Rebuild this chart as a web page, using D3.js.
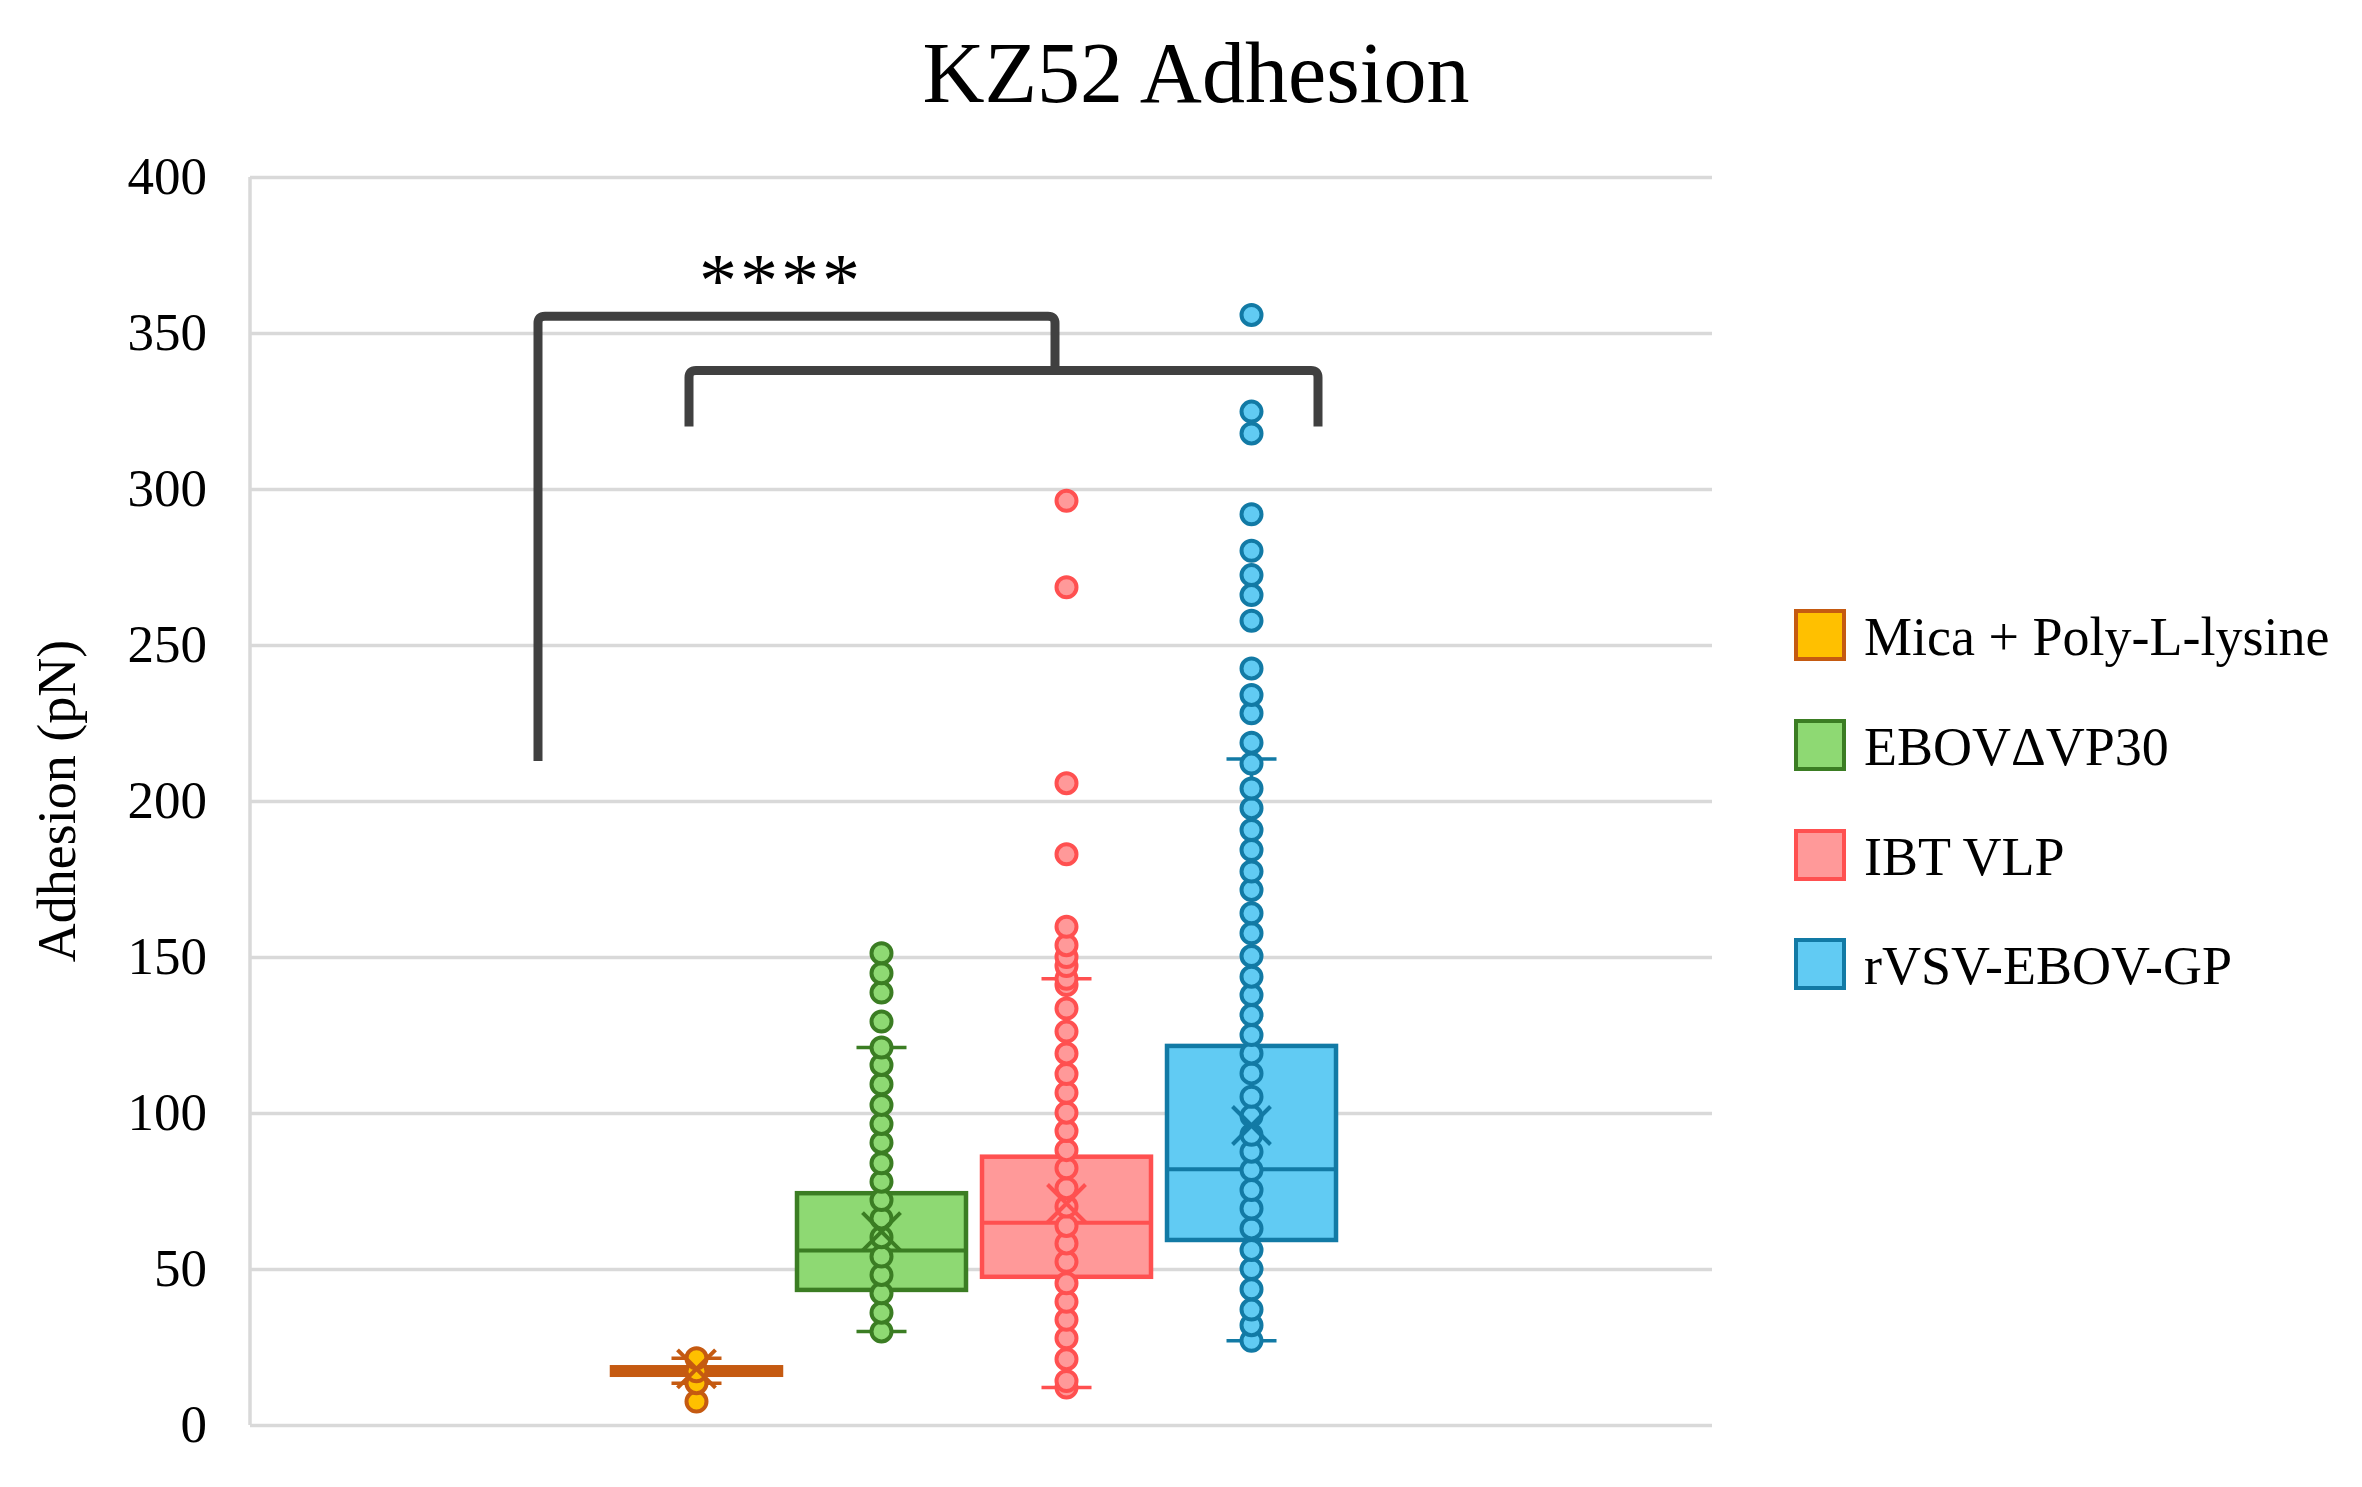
<!DOCTYPE html>
<html>
<head>
<meta charset="utf-8">
<script src="https://cdn.jsdelivr.net/npm/d3@7"></script>
<style>
  html, body { margin: 0; padding: 0; background: #ffffff; }
  svg { display: block; }
</style>
</head>
<body>
<svg id="chart" width="2362" height="1487"></svg>
<script>
// ---------------- data ----------------
const title = "KZ52 Adhesion";
const yTitle = "Adhesion (pN)";
const seriesNames = ["Mica + Poly-L-lysine", "EBOV\u0394VP30", "IBT VLP", "rVSV-EBOV-GP"];
const yTicks = [0, 50, 100, 150, 200, 250, 300, 350, 400];

const q1Values      = [16.1, 43.3, 47.5, 59.3];
const medianValues  = [17.3, 55.9, 64.8, 82.0];
const q3Values      = [18.5, 74.3, 86.0, 121.5];
const meanValues    = [18.0, 62.0, 71.0, 96.0];
const whiskerLow    = [13.4, 30.0, 12.0, 27.0];
const whiskerHigh   = [21.4, 121.0, 143.0, 213.5];

const micaPoints = [7.5, 13.4, 17.2, 21.4];
const ebovPoints = [30, 36, 42.2, 48.1, 54, 60.2, 66.2, 72.1, 78, 83.9, 90.5, 96.5,
  102.6, 109.2, 115.4, 121, 129.3, 138.6, 144.8, 151.2];
const ibtPoints = [12, 14.1, 21.1, 27.8, 33.7, 39.5, 45.4, 52.3, 58.2, 63.8, 70, 75.9,
  82.3, 88.1, 94.2, 100.1, 106.5, 112.5, 119.1, 126.1, 133.5, 141, 143, 147.1, 150,
  153.8, 159.7, 182.9, 205.7, 268.5, 296.2];
const rvsvPoints = [27, 32, 37, 43.5, 50, 56.1, 63, 69.4, 75.3, 81.7, 87.6, 93, 99,
  105.2, 112.7, 119.1, 125, 131.4, 137.8, 143.7, 150.3, 157.6, 164, 171.5, 177.4,
  184.3, 190.7, 197.7, 204, 212, 218.7, 228.1, 234, 242.5, 257.8, 266, 272.4, 280.2,
  291.9, 317.8, 324.8, 355.8];
const pointSets = [micaPoints, ebovPoints, ibtPoints, rvsvPoints];

// significance brackets (values in pN)
const bracketUpper = { leftBottom: 212.8, top: 355.4, rightBottom: 338 };
const bracketLower = { top: 338, bottom: 320 };
const sigLabel = "****";

// ---------------- styles ----------------
const fills   = ["#FFC000", "#8ED973", "#FF9999", "#61CBF3"];
const strokes = ["#C55A11", "#3B7D23", "#FF5050", "#127AA5"];
const FONT = "'Liberation Serif', 'Times New Roman', Times, serif";

const svg = d3.select("#chart");
const plot = { left: 250, right: 1712, top: 177, bottom: 1425 };

const y = d3.scaleLinear().domain([0, 400]).range([plot.bottom, plot.top]);
const x = d3.scaleBand().domain(seriesNames).range([604, 1344])
  .paddingInner(0.0865).paddingOuter(0.0432);

// gridlines
const grid = svg.append("g").attr("transform", `translate(${plot.left},0)`)
  .call(d3.axisRight(y).tickValues(yTicks).tickSize(plot.right - plot.left).tickFormat(""));
grid.select(".domain").remove();
grid.selectAll(".tick line").attr("stroke", "#d9d9d9").attr("stroke-width", 3.5);

// left axis line
svg.append("line").attr("x1", plot.left).attr("x2", plot.left)
  .attr("y1", plot.top).attr("y2", plot.bottom)
  .attr("stroke", "#d9d9d9").attr("stroke-width", 3.5);

// tick labels
const yAxis = svg.append("g").attr("transform", `translate(${plot.left},0)`)
  .call(d3.axisLeft(y).tickValues(yTicks).tickSize(0).tickPadding(43));
yAxis.select(".domain").remove();
yAxis.selectAll("text").attr("font-family", FONT).attr("font-size", 53).attr("fill", "#000");

// axis title
svg.append("text")
  .attr("transform", `translate(57, ${(plot.top + plot.bottom) / 2}) rotate(-90)`)
  .attr("text-anchor", "middle").attr("dominant-baseline", "central")
  .attr("font-family", FONT).attr("font-size", 54).attr("fill", "#000")
  .text(yTitle);

// chart title
svg.append("text").attr("x", 1196).attr("y", 102).attr("text-anchor", "middle")
  .attr("font-family", FONT).attr("font-size", 86).attr("fill", "#000").text(title);

// boxes
const boxData = seriesNames.map((name, i) => ({
  name, i, q1: q1Values[i], med: medianValues[i], q3: q3Values[i], mean: meanValues[i],
  lo: whiskerLow[i], hi: whiskerHigh[i], pts: pointSets[i]
}));

const g = svg.append("g");
boxData.forEach(d => {
  const x0 = x(d.name), w = x.bandwidth(), cx = x0 + w / 2;
  const sg = g.append("g");
  // whiskers
  sg.append("line").attr("x1", cx).attr("x2", cx).attr("y1", y(d.q3)).attr("y2", y(d.hi))
    .attr("stroke", strokes[d.i]).attr("stroke-width", 3.5);
  sg.append("line").attr("x1", cx).attr("x2", cx).attr("y1", y(d.q1)).attr("y2", y(d.lo))
    .attr("stroke", strokes[d.i]).attr("stroke-width", 3.5);
  [d.hi, d.lo].forEach(v => {
    sg.append("line").attr("x1", cx - 25).attr("x2", cx + 25).attr("y1", y(v)).attr("y2", y(v))
      .attr("stroke", strokes[d.i]).attr("stroke-width", 3.5);
  });
  // box
  sg.append("rect").attr("x", x0).attr("width", w)
    .attr("y", y(d.q3)).attr("height", y(d.q1) - y(d.q3))
    .attr("fill", fills[d.i]).attr("stroke", strokes[d.i]).attr("stroke-width", 4.5);
  sg.append("line").attr("x1", x0).attr("x2", x0 + w).attr("y1", y(d.med)).attr("y2", y(d.med))
    .attr("stroke", strokes[d.i]).attr("stroke-width", 4);
  // points
  sg.selectAll("circle").data(d.pts).join("circle")
    .attr("cx", cx).attr("cy", v => y(v)).attr("r", 10)
    .attr("fill", fills[d.i]).attr("stroke", strokes[d.i]).attr("stroke-width", 4);
  // mean marker
  const my = y(d.mean), s = 19;
  sg.append("path")
    .attr("d", `M${cx - s},${my - s}L${cx + s},${my + s}M${cx - s},${my + s}L${cx + s},${my - s}`)
    .attr("stroke", strokes[d.i]).attr("stroke-width", 4).attr("fill", "none");
});

// significance brackets
const bColor = "#404040", bw = 9, rr = 7;
const up = d3.path();
up.moveTo(538, y(bracketUpper.leftBottom));
up.lineTo(538, y(bracketUpper.top) + rr);
up.quadraticCurveTo(538, y(bracketUpper.top), 538 + rr, y(bracketUpper.top));
up.lineTo(1055 - rr, y(bracketUpper.top));
up.quadraticCurveTo(1055, y(bracketUpper.top), 1055, y(bracketUpper.top) + rr);
up.lineTo(1055, y(bracketUpper.rightBottom));
svg.append("path").attr("d", up.toString()).attr("fill", "none")
  .attr("stroke", bColor).attr("stroke-width", bw);

const lo = d3.path();
lo.moveTo(689, y(bracketLower.bottom));
lo.lineTo(689, y(bracketLower.top) + rr);
lo.quadraticCurveTo(689, y(bracketLower.top), 689 + rr, y(bracketLower.top));
lo.lineTo(1318 - rr, y(bracketLower.top));
lo.quadraticCurveTo(1318, y(bracketLower.top), 1318, y(bracketLower.top) + rr);
lo.lineTo(1318, y(bracketLower.bottom));
svg.append("path").attr("d", lo.toString()).attr("fill", "none")
  .attr("stroke", bColor).attr("stroke-width", bw);

svg.append("text").attr("x", 781).attr("y", 306).attr("text-anchor", "middle")
  .attr("font-family", FONT).attr("font-size", 76).attr("letter-spacing", 3)
  .attr("fill", "#000").text(sigLabel);

// legend
const legendRows = [635, 745, 855, 964];
const lg = svg.append("g");
seriesNames.forEach((name, i) => {
  lg.append("rect").attr("x", 1796).attr("y", legendRows[i] - 24).attr("width", 48).attr("height", 48)
    .attr("fill", fills[i]).attr("stroke", strokes[i]).attr("stroke-width", 4);
  lg.append("text").attr("x", 1864).attr("y", legendRows[i] + 20)
    .attr("font-family", FONT).attr("font-size", 54).attr("fill", "#000").text(name);
});
</script>
</body>
</html>
